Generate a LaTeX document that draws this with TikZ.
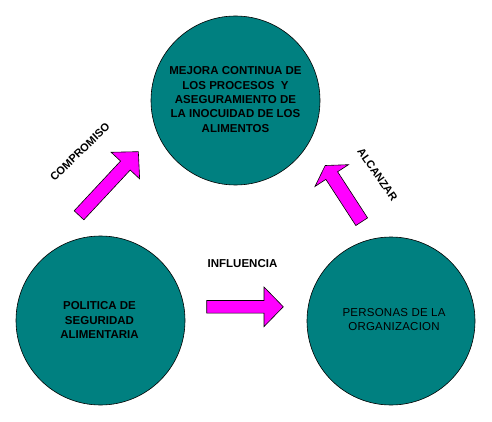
\documentclass[tikz,border=0pt]{standalone}
\usepackage{fontspec}
\setmainfont{Liberation Sans}
\newfontfamily\spacedfont[LetterSpace=2]{Liberation Sans}
\begin{document}
\begin{tikzpicture}[x=1pt,y=-1pt,
  circ/.style={circle, draw=black, line width=0.6pt, fill=tealc, minimum size=#1, inner sep=0pt},
  circtext/.style={align=center, font=\fontsize{11.5}{14.4}\selectfont\bfseries, text=black},
  circtextreg/.style={align=center, font=\fontsize{11.5}{14.4}\selectfont\spacedfont, text=black},
  lbl/.style={font=\fontsize{11}{13}\selectfont\bfseries, text=black, inner sep=0pt},
  blockarrow/.style={draw=black, line width=0.6pt, fill=magentac, line join=miter}]
\definecolor{tealc}{RGB}{0,128,128}
\definecolor{magentac}{RGB}{255,0,255}
\useasboundingbox (0,0) rectangle (492,422);
% circles
\node[circ=169pt] (top) at (235.5,100.5) {};
\node[circ=169pt] (left) at (100.5,320.5) {};
\node[circ=168pt] (right) at (391,321) {};
% circle texts
\node[circtext] (toptext) at (235.5,99.5) {MEJORA CONTINUA DE\\LOS PROCESOS \ Y\\ASEGURAMIENTO DE\\LA INOCUIDAD DE LOS\\ALIMENTOS};
\node[circtext] (lefttext) at (99.5,320) {POLITICA DE\\SEGURIDAD\\ALIMENTARIA};
\node[circtextreg] (righttext) at (394,319.5) {PERSONAS DE LA\\ORGANIZACION};
% block arrows
\begin{scope}[shift={(206.7,306.8)}]
  \draw[blockarrow] (0,-6.3) -- (57.3,-6.3) -- (57.3,-19.8) -- (76.6,0) -- (57.3,19.8) -- (57.3,6.3) -- (0,6.3) -- cycle;
\end{scope}
\begin{scope}[shift={(79,215.3)}, rotate=47]
  \draw[blockarrow] (0,-6.6) -- (68,-6.6) -- (68,-19.5) -- (87,0) -- (68,19.5) -- (68,6.6) -- (0,6.6) -- cycle;
\end{scope}
\begin{scope}[shift={(361.7,221.7)}, rotate=123]
  \draw[blockarrow] (0,-7) -- (55,-7) -- (55,-20) -- (67,0) -- (55,20) -- (55,7) -- (0,7) -- cycle;
\end{scope}
% labels
\node[lbl, rotate=44] (compromiso) at (80,152) {COMPROMISO};
\node[lbl, rotate=-55] (alcanzar) at (377.5,174.5) {ALCANZAR};
\node[lbl, font=\fontsize{11.5}{13}\selectfont\bfseries] (influencia) at (242.5,264) {INFLUENCIA};
\end{tikzpicture}
\end{document}
